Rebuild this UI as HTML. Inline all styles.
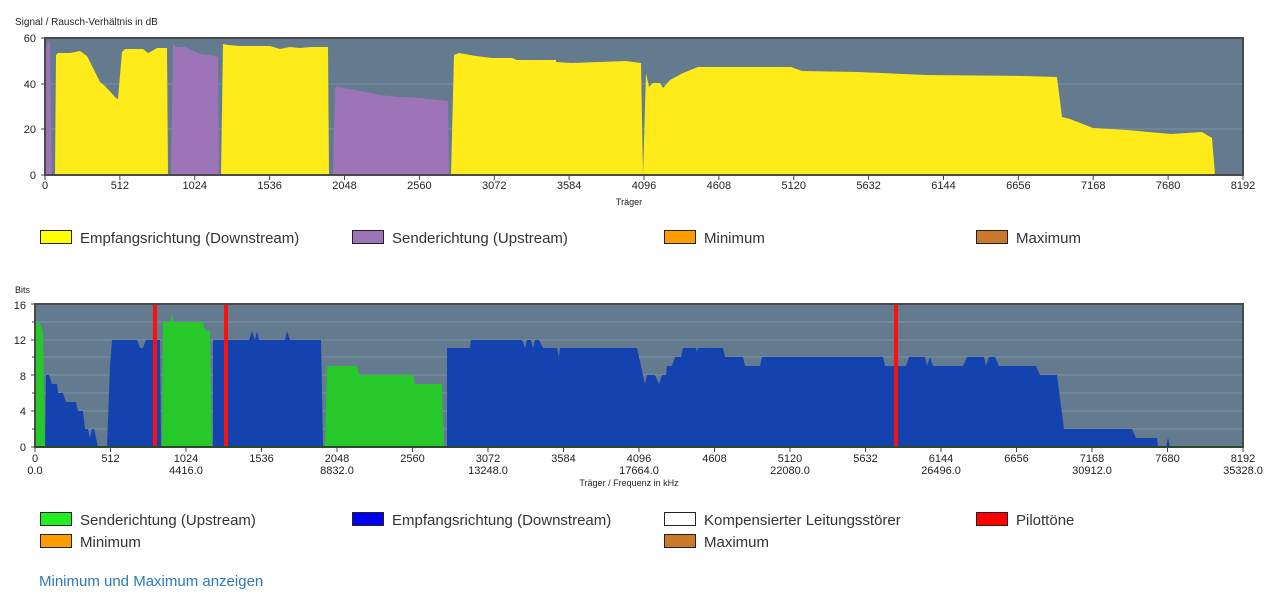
<!DOCTYPE html>
<html><head><meta charset="utf-8"><style>
body{margin:0;background:#fff;width:1272px;height:600px;overflow:hidden;font-family:"Liberation Sans",sans-serif}
svg{display:block}
.t{font-family:"Liberation Sans",sans-serif;fill:#222}
.lg{font-size:15px;fill:#333}
.ax{font-size:11px}
</style></head><body>
<svg width="1272" height="600" viewBox="0 0 1272 600">
<!-- TOP CHART -->
<text class="t" x="15" y="25" font-size="10">Signal / Rausch-Verhältnis in dB</text>
<rect x="45" y="38" width="1198" height="137" fill="#637a8f"/>
<line x1="45" y1="84" x2="1243" y2="84" stroke="#7d92a5" stroke-width="1"/>
<line x1="45" y1="129" x2="1243" y2="129" stroke="#7d92a5" stroke-width="1"/>
<g fill="#9e74b8">
<polygon points="45,175 46,50 48,40 50,45 52,175"/>
<polygon points="171,175 173,44 176,47 185,47 200,54 210,55 218,57 219,175"/>
<polygon points="333,175 335,88 338,87 360,91 380,95 400,97 420,98 448,101 449,175"/>
</g>
<g fill="#ffea1a">
<polygon points="55,175 56,55 58,53 70,53 75,52 80,51 87,56 95,72 100,82 105,86 116,98 118,99 120,75 122,52 125,49 143,49 148,53 152,51 157,48 167,48 168,175"/>
<polygon points="221,175 223,44 228,45 240,46 270,46 280,49 290,47 300,48 310,47 328,47 329,175"/>
<polygon points="451,175 454,55 459,53 476,56 492,58 512,58 517,60 556,60 556,62 572,63 626,61 641,63 643,175"/>
<polygon points="643,175 646,73 649,87 653,83 660,83 663,88 670,80 683,73 698,67 791,67 802,71 858,72 926,75 1024,76 1057,77 1062,117 1070,119 1093,128 1127,130 1171,134 1202,132 1212,138 1215,175"/>
</g>
<rect x="45" y="38" width="1198" height="137" fill="none" stroke="#4a4a4a" stroke-width="2"/>
<g stroke="#444" stroke-width="1">
<line x1="41" y1="38" x2="45" y2="38"/><line x1="41" y1="84" x2="45" y2="84"/><line x1="41" y1="129" x2="45" y2="129"/><line x1="41" y1="175" x2="45" y2="175"/>
</g>
<g class="t ax" text-anchor="end">
<text x="36" y="42">60</text><text x="36" y="88">40</text><text x="36" y="133">20</text><text x="36" y="179">0</text>
</g>
<g class="t ax" text-anchor="middle" id="tx1"></g>
<text class="t" x="629" y="205" font-size="9" text-anchor="middle">Träger</text>
<!-- top legend -->
<rect x="40.5" y="230.5" width="31" height="13" fill="#ffff00" stroke="#222"/>
<text class="t lg" x="80" y="243">Empfangsrichtung (Downstream)</text>
<rect x="352.5" y="230.5" width="31" height="13" fill="#9e74b8" stroke="#222"/>
<text class="t lg" x="392" y="243">Senderichtung (Upstream)</text>
<rect x="664.5" y="230.5" width="31" height="13" fill="#ff9c00" stroke="#222"/>
<text class="t lg" x="704" y="243">Minimum</text>
<rect x="976.5" y="230.5" width="31" height="13" fill="#c87a2a" stroke="#222"/>
<text class="t lg" x="1016" y="243">Maximum</text>

<!-- BOTTOM CHART -->
<text class="t" x="15" y="293" font-size="9">Bits</text>
<rect x="35" y="304" width="1208" height="143" fill="#637a8f"/>
<g stroke="#7d92a5" stroke-width="1">
<line x1="35" y1="322" x2="1243" y2="322"/><line x1="35" y1="340" x2="1243" y2="340"/><line x1="35" y1="357" x2="1243" y2="357"/><line x1="35" y1="375" x2="1243" y2="375"/><line x1="35" y1="393" x2="1243" y2="393"/><line x1="35" y1="411" x2="1243" y2="411"/><line x1="35" y1="429" x2="1243" y2="429"/>
</g>
<g fill="#26c929">
<polygon points="35,447 35,322 39,322 43,331 45,447"/>
<polygon points="162,447 163,322 170,322 172,313 173,322 203,322 205,331 210,331 212,447"/>
<polygon points="325,447 327,366 357,366 359,375 413,375 415,384 442,384 444,447"/>
</g>
<g fill="#1443b0">
<polygon points="45,447 46,375 49,375 52,384 57,384 58,393 63,393 66,402 76,402 78,411 83,411 85,429 88,429 90,438 92,429 94,429 98,447"/>
<polygon points="107,447 110,366 112,340 137,340 140,348 143,348 146,340 160,340 161,447"/>
<polygon points="213,447 213,340 249,340 252,331 255,340 257,331 259,340 285,340 287,331 290,340 321,340 323,447"/>
<polygon points="447,447 447,348 470,348 471,340 522,340 525,348 527,340 531,340 533,348 535,340 539,340 543,348 557,348 559,357 560,348 637,348 645,384 647,375 655,375 659,384 662,375 666,375 667,366 672,366 675,357 681,357 683,348 696,348 698,357 698,340 698,348 723,348 725,357 743,357 745,366 760,366 762,357 883,357 885,366 906,366 909,357 925,357 927,366 930,357 933,366 963,366 967,357 984,357 986,366 989,357 995,357 999,366 1036,366 1040,375 1057,375 1064,429 1132,429 1136,438 1157,438 1158,447 1166,447 1168,438 1170,447"/>
</g>
<polygon points="696,357 698,348 720,348" fill="#1443b0"/>
<g fill="#ff1010">
<rect x="153" y="304" width="4" height="143"/><rect x="224" y="304" width="4" height="143"/><rect x="894" y="304" width="4" height="143"/>
</g>
<rect x="35" y="304" width="1208" height="143" fill="none" stroke="#4a4a4a" stroke-width="2"/>
<line x1="35" y1="447" x2="1243" y2="447" stroke="#2a4a2a" stroke-width="2"/>
<g stroke="#444" stroke-width="1">
<line x1="31" y1="304" x2="35" y2="304"/><line x1="32" y1="322" x2="35" y2="322"/><line x1="31" y1="340" x2="35" y2="340"/><line x1="32" y1="357" x2="35" y2="357"/><line x1="31" y1="375" x2="35" y2="375"/><line x1="32" y1="393" x2="35" y2="393"/><line x1="31" y1="411" x2="35" y2="411"/><line x1="32" y1="429" x2="35" y2="429"/><line x1="31" y1="447" x2="35" y2="447"/>
</g>
<g class="t ax" text-anchor="end">
<text x="26" y="309">16</text><text x="26" y="344">12</text><text x="26" y="380">8</text><text x="26" y="415">4</text><text x="26" y="451">0</text>
</g>
<g class="t ax" text-anchor="middle" id="tx2"></g>
<text class="t" x="629" y="486" font-size="9" text-anchor="middle">Träger / Frequenz in kHz</text>
<!-- bottom legend -->
<rect x="40.5" y="512.5" width="31" height="13" fill="#22ee22" stroke="#222"/>
<text class="t lg" x="80" y="525">Senderichtung (Upstream)</text>
<rect x="352.5" y="512.5" width="31" height="13" fill="#0000ee" stroke="#222"/>
<text class="t lg" x="392" y="525">Empfangsrichtung (Downstream)</text>
<rect x="664.5" y="512.5" width="31" height="13" fill="#ffffff" stroke="#222"/>
<text class="t lg" x="704" y="525">Kompensierter Leitungsstörer</text>
<rect x="976.5" y="512.5" width="31" height="13" fill="#ff0000" stroke="#222"/>
<text class="t lg" x="1016" y="525">Pilottöne</text>
<rect x="40.5" y="534.5" width="31" height="13" fill="#ff9c00" stroke="#222"/>
<text class="t lg" x="80" y="547">Minimum</text>
<rect x="664.5" y="534.5" width="31" height="13" fill="#c87a2a" stroke="#222"/>
<text class="t lg" x="704" y="547">Maximum</text>
<text x="39" y="586" font-size="15" fill="#2a7ab8" font-family="Liberation Sans, sans-serif">Minimum und Maximum anzeigen</text>
</svg>
<script>
(function(){
var ns="http://www.w3.org/2000/svg";
var g1=document.getElementById("tx1"),g2=document.getElementById("tx2");
var svg=g1.ownerSVGElement;
function t(g,x,y,s){var e=document.createElementNS(ns,"text");e.setAttribute("x",x);e.setAttribute("y",y);e.textContent=s;g.appendChild(e);}
function l(x,y1,y2){var e=document.createElementNS(ns,"line");e.setAttribute("x1",x);e.setAttribute("x2",x);e.setAttribute("y1",y1);e.setAttribute("y2",y2);e.setAttribute("stroke","#444");svg.appendChild(e);}
for(var i=0;i<=16;i++){
 var c=i*512;
 var x1=45+1198*c/8192; t(g1,x1,189,String(c)); l(x1,175,180);
 var x2=35+1208*c/8192; t(g2,x2,462,String(c)); l(x2,447,452);
 if(i%2==0) t(g2,x2,474,(c*4.3125).toFixed(1));
}
})();
</script>
</body></html>
